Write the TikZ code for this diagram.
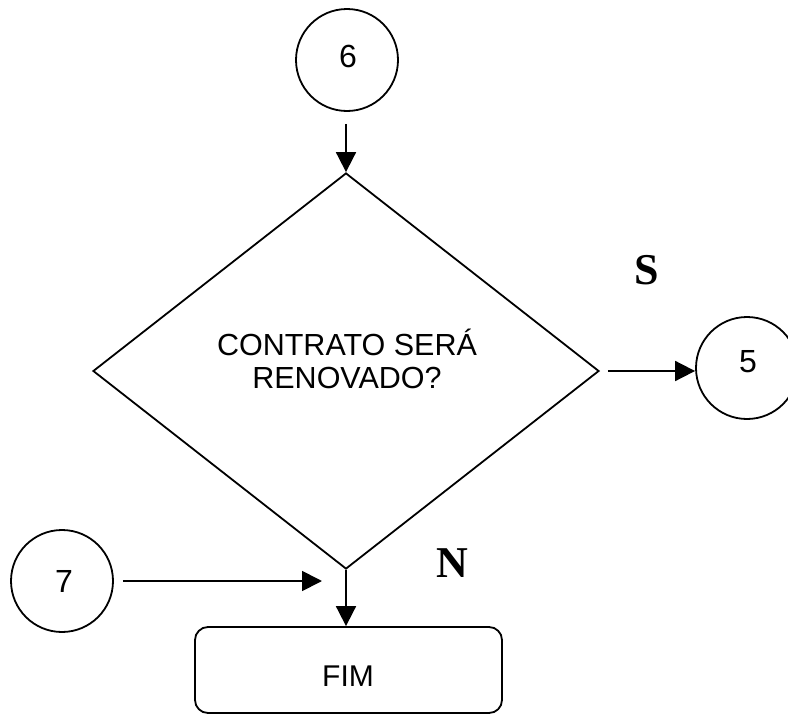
\documentclass[tikz,border=0pt]{standalone}
\usepackage{fontspec}
\setmainfont{Liberation Sans}
\newfontfamily\serifbold{Liberation Serif}[BoldFont=* Bold]
\usetikzlibrary{shapes.geometric,arrows.meta}
\begin{document}
\begin{tikzpicture}[x=1pt,y=-1pt,
  connector/.style={draw,line width=1.8pt,-{Triangle[length=20pt,width=20pt]}},
  conn/.style={draw,circle,line width=1.8pt,minimum size=102pt,inner sep=0pt},
  digit/.style={font=\fontsize{32}{36}\selectfont},
  decision/.style={draw,diamond,line width=1.8pt,minimum width=506pt,
    minimum height=396pt,inner sep=0pt},
  terminal/.style={draw,rectangle,rounded corners=13pt,line width=1.8pt,
    minimum width=307pt,minimum height=86pt,inner sep=0pt},
  bodytext/.style={font=\fontsize{30.5}{33}\selectfont,align=center},
  answer/.style={font=\serifbold\bfseries\fontsize{44}{44}\selectfont}]
  \useasboundingbox (0,0) rectangle (788,715);

  % connectors (circles)
  \node[conn] (c6) at (347,60) {};
  \node[digit] (t6) at (348,56.5) {6};
  \node[conn] (c5) at (747,368) {};
  \node[digit] (t5) at (748,361.5) {5};
  \node[conn] (c7) at (62,581) {};
  \node[digit] (t7) at (64,581) {7};

  % decision
  \node[decision] (dec) at (346,371) {};
  \node[bodytext] (q) at (347,359) {CONTRATO SERÁ\\RENOVADO?};

  % end box
  \node[terminal] (fim) at (348.5,670) {};
  \node[font=\fontsize{30}{34}\selectfont] (tfim) at (348,676.5) {FIM};

  % answer labels
  \node[answer] (s) at (647,270) {S};
  \node[answer] (n) at (452,563) {N};

  % flow
  \coordinate (join) at (322,581);
  \draw[connector,shorten <=12pt] (c6.south -| dec.north) -- (dec.north);
  \draw[connector,shorten <=8pt] (dec.east) -- (dec.east -| c5.west);
  \draw[connector,shorten <=9pt] (c7.east) -- (join);
  \draw[connector] (dec.south) -- (dec.south |- fim.north);
\end{tikzpicture}
\end{document}
